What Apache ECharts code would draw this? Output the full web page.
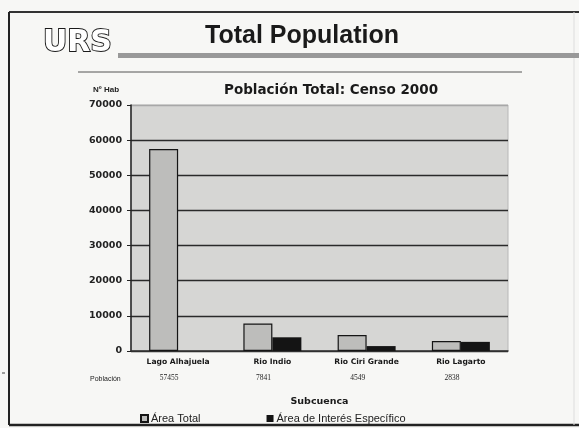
<!DOCTYPE html>
<html>
<head>
<meta charset="utf-8">
<script src="https://cdn.jsdelivr.net/npm/echarts@6/dist/echarts.min.js"></script>
<style>
  html, body { margin: 0; padding: 0; background: #f7f7f5; }
  #chart { width: 579px; height: 428px; }
</style>
</head>
<body>
<div id="chart"></div>
<script>
// Subcuencas (x categories)
const categories = ['Lago Alhajuela', 'Rio Indio', 'Rio Ciri Grande', 'Rio Lagarto'];
// Población total por subcuenca (fila de datos bajo el eje)
const poblacion = [57455, 7841, 4549, 2838];
// Series de barras
const areaTotal = [57455, 7841, 4549, 2838];
const areaInteres = [0, 3900, 1400, 2600];
// Eje Y
const yMin = 0, yMax = 70000, yStep = 10000;

const boldWide = 'DejaVu Sans';
const chart = echarts.init(document.getElementById('chart'), null, { renderer: 'canvas' });

chart.setOption({
  backgroundColor: '#f7f7f5',
  animation: false,
  title: [
    { text: 'Total Population', left: 200, top: 19,
      textStyle: { fontFamily: 'Liberation Sans', fontWeight: 'bold', fontSize: 25, color: '#1a1a1a' } },
    { text: 'Población Total: Censo 2000', left: 219, top: 78,
      textStyle: { fontFamily: boldWide, fontWeight: 'bold', fontSize: 13.5, color: '#1a1a1a' } },
    { text: 'Nº Hab', left: 88, top: 81,
      textStyle: { fontFamily: 'Liberation Sans', fontWeight: 'bold', fontSize: 8, color: '#222' } },
    { text: 'Población', left: 85, top: 371,
      textStyle: { fontFamily: 'Liberation Sans', fontWeight: 'normal', fontSize: 7, color: '#222' } }
  ],
  graphic: [
    // marco
    { type: 'line', shape: { x1: 9, y1: 12, x2: 579, y2: 12 }, style: { stroke: '#333', lineWidth: 2 } },
    { type: 'line', shape: { x1: 9, y1: 12, x2: 9, y2: 425 }, style: { stroke: '#222', lineWidth: 2 } },
    { type: 'line', shape: { x1: 9, y1: 425, x2: 579, y2: 425 }, style: { stroke: '#222', lineWidth: 2.5 } },
    { type: 'line', shape: { x1: 574, y1: 12, x2: 574, y2: 425 }, style: { stroke: '#ddd', lineWidth: 1 } },
    // logotipo
    { type: 'text', left: 42, top: 27,
      style: { text: 'URS', fill: '#ffffff', stroke: '#1a1a1a', lineWidth: 1.8,
               font: 'bold 30px "DejaVu Sans"' } },
    // banda gris
    { type: 'rect', shape: { x: 118, y: 53, width: 461, height: 5 }, style: { fill: '#999' } },
    // línea fina
    { type: 'line', shape: { x1: 78, y1: 72, x2: 522, y2: 72 }, style: { stroke: '#555', lineWidth: 1 } },
    { type: 'line', shape: { x1: 2, y1: 373, x2: 5, y2: 373 }, style: { stroke: '#444', lineWidth: 1 } }
  ],
  legend: {
    left: 135, top: 408,
    itemWidth: 7, itemHeight: 7, itemGap: 66,
    icon: 'rect',
    textStyle: { fontFamily: 'Liberation Sans', fontSize: 11, color: '#222', padding: [0, 0, 0, -2] },
    data: ['Área Total', 'Área de Interés Específico']
  },
  grid: {
    left: 131, right: 71, top: 105, bottom: 77,
    show: true, backgroundColor: '#d6d6d4', borderColor: '#b8b8b8', borderWidth: 1
  },
  xAxis: [
    {
      type: 'category', data: categories, position: 'bottom',
      name: 'Subcuenca', nameLocation: 'middle', nameGap: 46,
      nameTextStyle: { fontFamily: boldWide, fontWeight: 'bold', fontSize: 9.5, color: '#1a1a1a' },
      axisLine: { lineStyle: { color: '#333', width: 1.5 } },
      axisTick: { show: false },
      axisLabel: { margin: 7, fontFamily: boldWide, fontWeight: 'bold', fontSize: 7.6, color: '#1a1a1a' }
    },
    {
      type: 'category', data: poblacion.map(String), position: 'bottom',
      axisLine: { show: false }, axisTick: { show: false },
      axisLabel: { margin: 23, fontFamily: 'Liberation Serif', fontSize: 7.5, color: '#222',
                   padding: [0, 18, 0, 0] }
    }
  ],
  yAxis: {
    type: 'value', min: yMin, max: yMax, interval: yStep,
    axisLine: { show: true, lineStyle: { color: '#222', width: 1.5 } },
    axisTick: { show: true, length: 4, lineStyle: { color: '#222' } },
    axisLabel: { margin: 9, fontFamily: boldWide, fontWeight: 'bold', fontSize: 9.5, color: '#222',
                 formatter: v => String(v) },
    splitLine: { show: true, lineStyle: { color: ['#2a2a2a', '#2a2a2a', '#2a2a2a', '#2a2a2a', '#2a2a2a', '#2a2a2a', '#2a2a2a', '#a8a8a8'], width: 1.3 } }
  },
  series: [
    {
      name: 'Área Total', type: 'bar', xAxisIndex: 0, data: areaTotal,
      barWidth: 29, barGap: '0%',
      itemStyle: { color: '#bdbdbb', borderColor: '#151515', borderWidth: 1.2 }
    },
    {
      name: 'Área de Interés Específico', type: 'bar', xAxisIndex: 0, data: areaInteres,
      barWidth: 29,
      itemStyle: { color: '#141414', borderWidth: 0 }
    }
  ]
});
</script>
</body>
</html>
